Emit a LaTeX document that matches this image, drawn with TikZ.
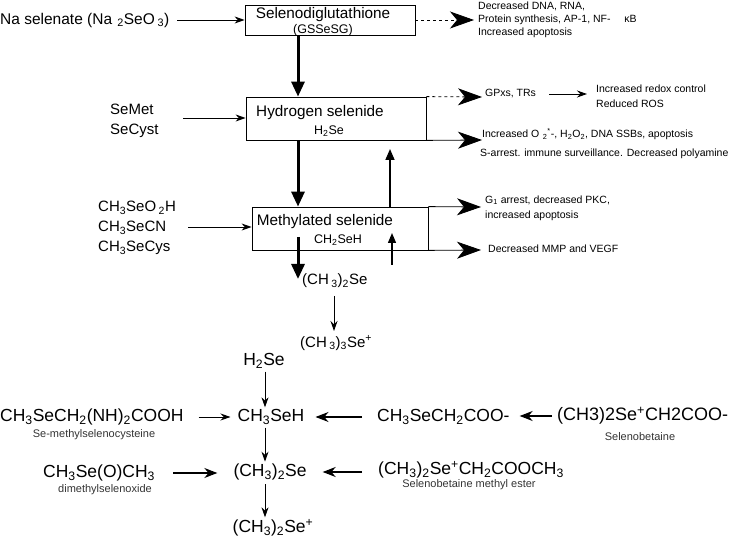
\documentclass[tikz,border=0pt]{standalone}
\usepackage{fontspec}
\setmainfont{Liberation Sans}
\usetikzlibrary{arrows.meta}
\newcommand{\sbs}[1]{\textsubscript{#1}}
\newcommand{\sps}[1]{\textsuperscript{#1}}
\begin{document}
\begin{tikzpicture}[x=1pt,y=-1pt,
  lab/.style={inner sep=0pt, font=\fontsize{15}{20}\selectfont, align=left},
  boxlab/.style={inner sep=0pt, font=\fontsize{15.3}{18}\selectfont},
  boxsub/.style={inner sep=0pt, font=\fontsize{12.5}{15}\selectfont},
  smalltxt/.style={inner sep=0pt, anchor=west, font=\fontsize{10.5}{13}\selectfont, align=left},
  bigtxt/.style={inner sep=0pt, font=\fontsize{17.5}{21}\selectfont},
  note/.style={inner sep=0pt, font=\fontsize{11}{13}\selectfont, text=black!80},
  boxst/.style={draw, line width=0.8pt, inner sep=0pt},
  arrthin/.style={line width=0.9pt, -{Stealth[length=10pt,width=7pt]}},
  arrmid/.style={line width=1.1pt, -{Stealth[length=13pt,width=10pt]}},
  arrthick/.style={line width=3pt, -{Triangle[length=15pt,width=13pt]}},
  arrbig/.style={line width=0.8pt, -{Stealth[length=24pt,width=17pt,inset=7pt]}},
]
\useasboundingbox (0,0) rectangle (729,537);

% boxes
\node[boxst, minimum width=170pt, minimum height=30pt] (b1) at (330,20) {};
\node[boxst, minimum width=180pt, minimum height=43pt] (b2) at (336,118.5) {};
\node[boxst, minimum width=176pt, minimum height=43pt] (b3) at (340,228.5) {};

\node[boxlab] (b1a) at (323,15) {Selenodiglutathione};
\node[boxsub] (b1b) at (323,30) {(GSSeSG)};
\node[boxlab] (b2a) at (320,113) {Hydrogen selenide};
\node[boxsub] (b2b) at (329,131) {H\sbs{2}Se};
\node[boxlab] (b3a) at (325,222) {Methylated selenide};
\node[boxsub] (b3b) at (338,240) {CH\sbs{2}SeH};

% left inputs
\node[lab, anchor=west, font=\fontsize{15.5}{20}\selectfont] (na) at (0,20) {Na selenate (Na\,\,\sbs{2}SeO\,\sbs{3})};
\node[lab, anchor=west] (semet) at (110,121) {SeMet\\SeCyst};
\node[lab, anchor=west] (ch3) at (98,228) {CH\sbs{3}SeO\,\sbs{2}H\\CH\sbs{3}SeCN\\CH\sbs{3}SeCys};

\coordinate (sm) at (183,118);
\coordinate (cm) at (188,227);
\draw[arrthin] ([xshift=8pt]na.east) -- (b1.west);
\draw[arrthin] (sm) -- (sm -| b2.west);
\draw[arrthin] (cm) -- (cm -| b3.west);

% vertical flow
\coordinate (colA) at (298,0);
\coordinate (colB) at (390,0);
\coordinate (upT) at (390,149);
\coordinate (inS) at (298,237);
\coordinate (inT) at (298,279);
\coordinate (smS) at (392,265);
\coordinate (smT) at (392,233);
\draw[arrthick] (b1.south -| colA) -- (b2.north -| colA);
\draw[arrthick] (b2.south -| colA) -- (b3.north -| colA);
\draw[arrthick] (inS) -- (inT);
\draw[line width=1.6pt, -{Triangle[length=11pt,width=9pt]}] (b3.north -| colB) -- (upT);
\draw[line width=1.3pt, -{Triangle[length=10pt,width=8pt]}] (smS) -- (smT);

\node[lab, anchor=west] (dms) at (302,281) {(CH\,\sbs{3})\sbs{2}Se};
\node[lab, anchor=west] (tms) at (300,343) {(CH\,\sbs{3})\sbs{3}Se\sps{+}};
\coordinate (dmA) at (334,296);
\coordinate (dmB) at (334,331);
\draw[arrthin] (dmA) -- (dmB);

% right effects
\coordinate (e1) at (474,20);
\coordinate (e2) at (482,97);
\coordinate (e3) at (482,140);
\coordinate (e4) at (481,207);
\coordinate (e5) at (481,250);
\draw[arrbig, dashed] (b1.east) -- (e1);
\draw[arrbig, dashed] (b2.north east) -- (e2);
\draw[arrbig] (b2.south east) -- (e3);
\draw[arrbig] (b3.north east) -- (e4);
\draw[arrbig] (b3.south east) -- (e5);

\node[smalltxt] (t1) at (478,20) {Decreased DNA, RNA,\\Protein synthesis, AP-1, NF-\hspace{1.3em}κB\\Increased apoptosis};
\node[smalltxt] (gp) at (485,94) {GPxs, TRs};
\node[smalltxt, font=\fontsize{10.5}{15}\selectfont] (redox) at (596,96) {Increased redox control\\Reduced ROS};
\draw[arrthin] ([xshift=13pt]gp.east) -- ([xshift=-9pt]redox.west |- gp.east);
\node[smalltxt] (t2) at (482,134) {Increased O\,\,\sbs{2}\sps{*}-, H\sbs{2}O\sbs{2}, DNA SSBs, apoptosis};
\node[smalltxt] (t3) at (480,154) {S-arrest. immune surveillance. Decreased polyamine};
\node[smalltxt, font=\fontsize{10.5}{15}\selectfont] (t4) at (485,208) {G\sbs{1} arrest, decreased PKC,\\increased apoptosis};
\node[smalltxt] (t5) at (488,249) {Decreased MMP and VEGF};

% lower scheme
\coordinate (colC) at (265,0);
\node[bigtxt] (h2se) at (264,361) {H\sbs{2}Se};
\node[bigtxt] (ch3seh) at (271,417) {CH\sbs{3}SeH};
\node[bigtxt] (dms2) at (270,472) {(CH\sbs{3})\sbs{2}Se};
\node[bigtxt] (dmsp) at (273,528) {(CH\sbs{3})\sbs{2}Se\sps{+}};

\node[bigtxt, anchor=west] (mscys) at (0,417) {CH\sbs{3}SeCH\sbs{2}(NH)\sbs{2}COOH};
\node[note] (mscysl) at (94,435) {Se-methylselenocysteine};
\node[bigtxt, anchor=west] (dmso) at (43,473) {CH\sbs{3}Se(O)CH\sbs{3}};
\node[note] (dmsol) at (105,490) {dimethylselenoxide};

\node[bigtxt, anchor=west] (msa) at (377,417) {CH\sbs{3}SeCH\sbs{2}COO-};
\node[bigtxt, anchor=west, font=\fontsize{18}{21}\selectfont] (sbet) at (557,416) {(CH3)2Se\sps{+}CH2COO-};
\node[note] (sbetl) at (640,437) {Selenobetaine};
\node[bigtxt, anchor=west] (sbme) at (378,470) {(CH\sbs{3})\sbs{2}Se\sps{+}CH\sbs{2}COOCH\sbs{3}};
\node[note] (sbmel) at (469,485) {Selenobetaine methyl ester};

\draw[arrthin, shorten <=3pt, shorten >=2pt] (h2se.south -| colC) -- (ch3seh.north -| colC);
\draw[arrthin, shorten <=3pt, shorten >=2pt] (ch3seh.south -| colC) -- (dms2.north -| colC);
\draw[arrthin, shorten <=4pt, shorten >=2pt] (dms2.south -| colC) -- (dmsp.north -| colC);
\draw[arrthin, shorten <=15pt, shorten >=7pt] (mscys.east) -- (ch3seh.west |- mscys.east);
\draw[arrmid, shorten <=18pt, shorten >=16pt] (dmso.east) -- (dms2.west |- dmso.east);
\draw[arrmid, shorten <=15pt, shorten >=11pt] (msa.west) -- (ch3seh.east |- msa.west);
\draw[arrmid, shorten <=5pt, shorten >=10pt] (sbet.west) -- (msa.east |- sbet.west);
\draw[arrmid, shorten <=16pt, shorten >=16pt] (sbme.west |- dms2.east) -- (dms2.east);
\end{tikzpicture}
\end{document}
